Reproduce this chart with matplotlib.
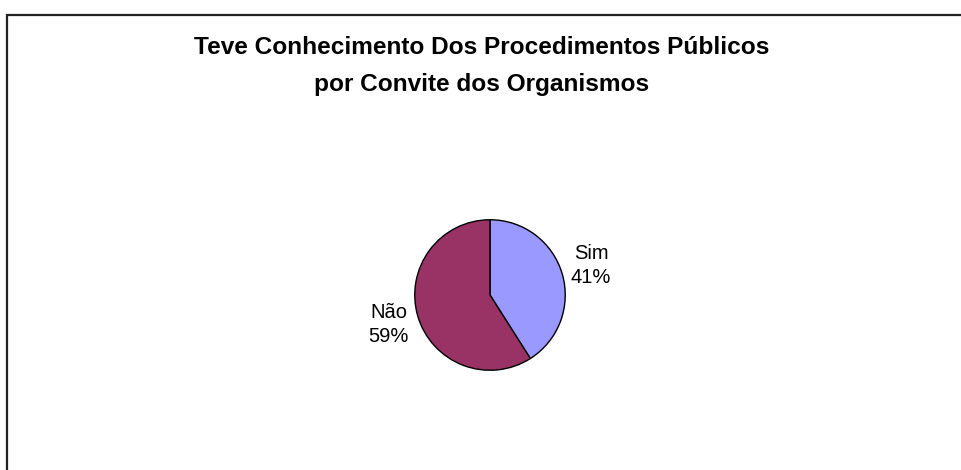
import matplotlib
matplotlib.use("Agg")
import matplotlib.pyplot as plt
from matplotlib.patches import Rectangle

categories = ["Sim", "Não"]
values = [41, 59]
colors = ["#9999FF", "#993366"]
title_lines = ["Teve Conhecimento Dos Procedimentos Públicos", "por Convite dos Organismos"]

W, H = 961, 470
fig = plt.figure(figsize=(W / 100, H / 100), dpi=100)
fig.patch.set_facecolor("white")

# border (chart area frame)
fig.patches.append(Rectangle((7 / W, -0.1), 1.2, (H - 15) / H + 0.1, transform=fig.transFigure,
                             fill=False, edgecolor="#222222", linewidth=1.6))

# title
fs_title = 17.6
fig.text(482 / W, 1 - 48 / H, title_lines[0], ha="center", va="center",
         fontsize=fs_title, fontweight="bold", family="Liberation Sans")
fig.text(482 / W, 1 - 84 / H, title_lines[1], ha="center", va="center",
         fontsize=fs_title, fontweight="bold", family="Liberation Sans")

cx, cy, r = 490, 295, 76
ax = fig.add_axes([(cx - r) / W, 1 - (cy + r) / H, 2 * r / W, 2 * r / H])
labels = [f"{c}\n{v}%" for c, v in zip(categories, values)]
wedges, texts = ax.pie(values, colors=colors, startangle=90, counterclock=False,
                       labels=labels, labeldistance=1.4,
                       wedgeprops=dict(edgecolor="black", linewidth=1.0),
                       textprops=dict(fontsize=14.5, family="Liberation Sans"))
for t in texts:
    t.set_ha("center")
    t.set_va("center")
    t.set_multialignment("center")
    t.set_linespacing(1.35)
ax.set_xlim(-1.01, 1.01)
ax.set_ylim(-1.01, 1.01)
ax.set_aspect("equal")
ax.axis("off")

fig.savefig("out.png", dpi=100, facecolor="white")
